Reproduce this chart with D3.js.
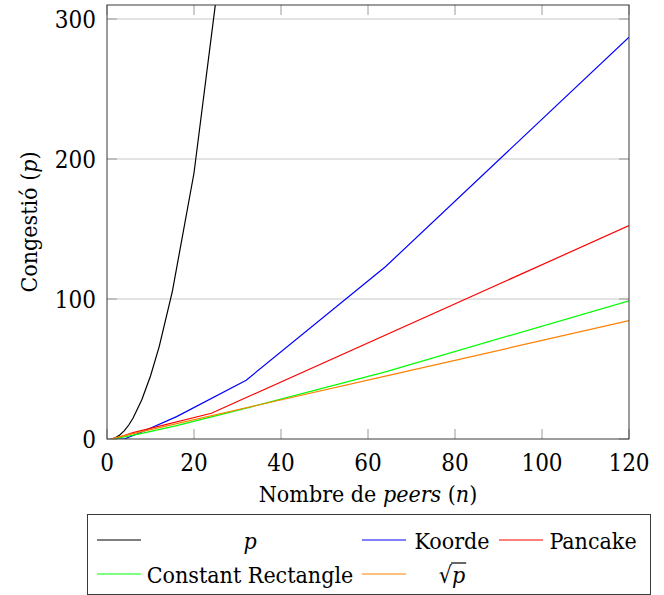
<!DOCTYPE html>
<html>
<head>
    <meta charset="utf-8">
    <script src="https://cdnjs.cloudflare.com/ajax/libs/d3/7.8.5/d3.min.js"></script>
    <style>
      body { margin: 0; background: white; }
    </style>
</head>
<body>
    <svg id="chart" width="664" height="595"></svg>
    <script>
      // data
      let xTicks = [0, 20, 40, 60, 80, 100, 120]
      let yTicks = [0, 100, 200, 300]

      let pN = [1, 2, 3, 4, 5, 6, 8, 10, 12, 15, 20, 30]
      let pVals = [0, 1, 3, 6, 10, 15, 28, 45, 66, 105, 190, 435]

      let koordeN = [2, 4, 8, 16, 32, 64, 120]
      let koordeVals = [0, 0, 5, 16, 42, 123, 287]

      let pancakeN = [1, 2, 6, 24, 120]
      let pancakeVals = [0, 0.5, 4.5, 18.4, 152.4]

      let rectN = [1, 2, 4, 8, 16, 32, 64, 120]
      let rectVals = [0, 0.5, 1.5, 4, 9.5, 22, 48, 98.7]

      let sqrtN = [1, 2, 4, 8, 16, 32, 64, 120]
      let sqrtVals = [0, 1, 2.4, 5.3, 11, 22.3, 44.9, 84.5]

      let series = [
        { name: 'p', n: pN, v: pVals, color: '#000000' },
        { name: 'Koorde', n: koordeN, v: koordeVals, color: '#0000ff' },
        { name: 'Pancake', n: pancakeN, v: pancakeVals, color: '#ff0000' },
        { name: 'Constant Rectangle', n: rectN, v: rectVals, color: '#00ff00' },
        { name: 'sqrt', n: sqrtN, v: sqrtVals, color: '#ff8000' }
      ]

      let serif = "'DejaVu Serif Condensed', 'DejaVu Serif', serif"

      let plotL = 107, plotR = 629, plotT = 5, plotB = 439
      let xScale = d3.scaleLinear().domain([0, 120]).range([plotL, plotR])
      let yScale = d3.scaleLinear().domain([0, 310]).range([plotB, plotT])

      let svg = d3.select('#chart')

      // grid
      svg.append('g').selectAll('line')
        .data(yTicks.slice(1))
        .enter().append('line')
        .attr('x1', plotL).attr('x2', plotR)
        .attr('y1', d => yScale(d)).attr('y2', d => yScale(d))
        .style('stroke', '#c8c8c8').style('stroke-width', '1px')

      // inward ticks on all four sides
      let tickLen = 10
      let tickG = svg.append('g').style('stroke', '#9a9a9a').style('stroke-width', '1px')
      xTicks.forEach(t => {
        tickG.append('line').attr('x1', xScale(t)).attr('x2', xScale(t)).attr('y1', plotB).attr('y2', plotB - tickLen)
        tickG.append('line').attr('x1', xScale(t)).attr('x2', xScale(t)).attr('y1', plotT).attr('y2', plotT + tickLen)
      })
      yTicks.forEach(t => {
        tickG.append('line').attr('x1', plotL).attr('x2', plotL + tickLen).attr('y1', yScale(t)).attr('y2', yScale(t))
        tickG.append('line').attr('x1', plotR).attr('x2', plotR - tickLen).attr('y1', yScale(t)).attr('y2', yScale(t))
      })

      // lines, clipped to the plot box
      svg.append('clipPath').attr('id', 'plotclip')
        .append('rect').attr('x', plotL).attr('y', plotT)
        .attr('width', plotR - plotL).attr('height', plotB - plotT)

      let line = d3.line().x(d => xScale(d[0])).y(d => yScale(d[1]))

      svg.append('g').attr('clip-path', 'url(#plotclip)')
        .selectAll('path')
        .data(series)
        .enter().append('path')
        .attr('d', s => line(s.n.map((n, i) => [n, s.v[i]])))
        .style('fill', 'none')
        .style('stroke', s => s.color)
        .style('stroke-width', '1.2px')

      // frame
      svg.append('rect')
        .attr('x', plotL).attr('y', plotT)
        .attr('width', plotR - plotL).attr('height', plotB - plotT)
        .style('fill', 'none').style('stroke', '#3a3a3a').style('stroke-width', '1px')

      // tick labels
      svg.append('g').selectAll('text')
        .data(xTicks)
        .enter().append('text')
        .attr('x', d => xScale(d)).attr('y', 471)
        .attr('text-anchor', 'middle')
        .style('font-family', serif)
        .style('font-stretch', 'condensed')
        .style('font-size', '24px')
        .text(d => d)

      svg.append('g').selectAll('text')
        .data(yTicks)
        .enter().append('text')
        .attr('x', 96).attr('y', d => yScale(d))
        .attr('dy', '0.36em')
        .attr('text-anchor', 'end')
        .style('font-family', serif)
        .style('font-stretch', 'condensed')
        .style('font-size', '24px')
        .text(d => d)

      // axis titles
      let xTitle = svg.append('text')
        .attr('x', (plotL + plotR) / 2).attr('y', 502)
        .attr('text-anchor', 'middle')
        .style('font-family', serif)
        .style('font-stretch', 'condensed')
        .style('font-size', '23px')
      xTitle.append('tspan').text('Nombre de ')
      xTitle.append('tspan').style('font-style', 'italic').text('peers')
      xTitle.append('tspan').text(' (')
      xTitle.append('tspan').style('font-style', 'italic').text('n')
      xTitle.append('tspan').text(')')

      let yTitle = svg.append('text')
        .attr('transform', 'translate(37,' + (plotT + plotB) / 2 + ') rotate(-90)')
        .attr('text-anchor', 'middle')
        .style('font-family', serif)
        .style('font-stretch', 'condensed')
        .style('font-size', '23px')
      yTitle.append('tspan').text('Congestió (')
      yTitle.append('tspan').style('font-style', 'italic').text('p')
      yTitle.append('tspan').text(')')

      // legend
      let legend = svg.append('g')
      legend.append('rect')
        .attr('x', 87.5).attr('y', 514.5).attr('width', 563).attr('height', 80)
        .style('fill', 'white').style('stroke', '#3a3a3a').style('stroke-width', '1px')

      let lineCols = [97, 362, 499]
      let textCols = [250, 452, 593]
      let rows = [540, 574]
      series.forEach((s, i) => {
        let row = Math.floor(i / 3), col = i % 3
        let ly = rows[row]
        legend.append('line')
          .attr('x1', lineCols[col]).attr('x2', lineCols[col] + 44)
          .attr('y1', ly).attr('y2', ly)
          .style('stroke', s.color).style('stroke-width', '1.2px')

        let t = legend.append('text')
          .attr('x', textCols[col]).attr('y', ly + 9)
          .attr('text-anchor', 'middle')
          .style('font-family', serif)
          .style('font-stretch', 'condensed')
          .style('font-size', '23px')
        if (s.name == 'p') {
          t.style('font-style', 'italic').text('p')
        } else if (s.name == 'sqrt') {
          t.append('tspan').text('√')
          let pt = t.append('tspan').style('font-style', 'italic').text('p')
          let box = t.node().getBBox()
          let pw = pt.node().getComputedTextLength()
          legend.append('line')
            .attr('x1', box.x + box.width - pw - 1).attr('x2', box.x + box.width + 1)
            .attr('y1', ly - 11).attr('y2', ly - 11)
            .style('stroke', 'black').style('stroke-width', '1.2px')
        } else {
          t.text(s.name)
        }
      })
    </script>
</body>
</html>
